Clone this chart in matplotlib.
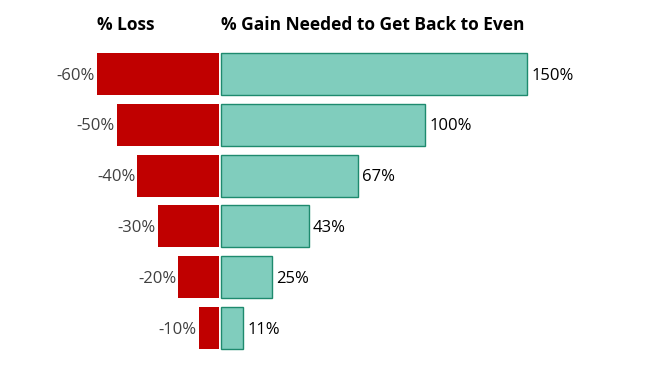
import matplotlib.pyplot as plt
import numpy as np

loss = [-60, -50, -40, -30, -20, -10]
gain = [150, 100, 67, 43, 25, 11]
loss_labels = ['-60%', '-50%', '-40%', '-30%', '-20%', '-10%']
gain_labels = ['150%', '100%', '67%', '43%', '25%', '11%']

plt.rcParams['font.family'] = ['Open Sans', 'DejaVu Sans']

fig = plt.figure(figsize=(6.45, 3.73), dpi=100)
ax = fig.add_axes([0, 0, 1, 1])
ax.axis('off')

px = 2.04  # pixels per percent
ax.set_xlim(-220 / px, (645 - 220) / px)
ax.set_ylim((373 - 74) / 50.8, -74 / 50.8)

y = np.arange(len(loss))
ax.barh(y, loss, height=0.83, left=-0.5, color='#C00000', edgecolor='none')
ax.barh(y, gain, height=0.83, left=0.5, color='#80CDBD', edgecolor='#1E8A6E', linewidth=1)

for i in range(len(loss)):
    ax.text(loss[i] - 1.5, y[i] + 0.03, loss_labels[i], ha='right', va='center',
            fontsize=12, color='#404040')
    ax.text(gain[i] + 2.5, y[i] + 0.03, gain_labels[i], ha='left', va='center',
            fontsize=12, color='black')

ax.text(-46, -0.96, '% Loss', ha='center', va='center', fontsize=12.5, fontweight='bold')
ax.text(0.5, -0.96, '% Gain Needed to Get Back to Even', ha='left', va='center',
        fontsize=12.5, fontweight='bold')

fig.savefig('out.png', dpi=100)
